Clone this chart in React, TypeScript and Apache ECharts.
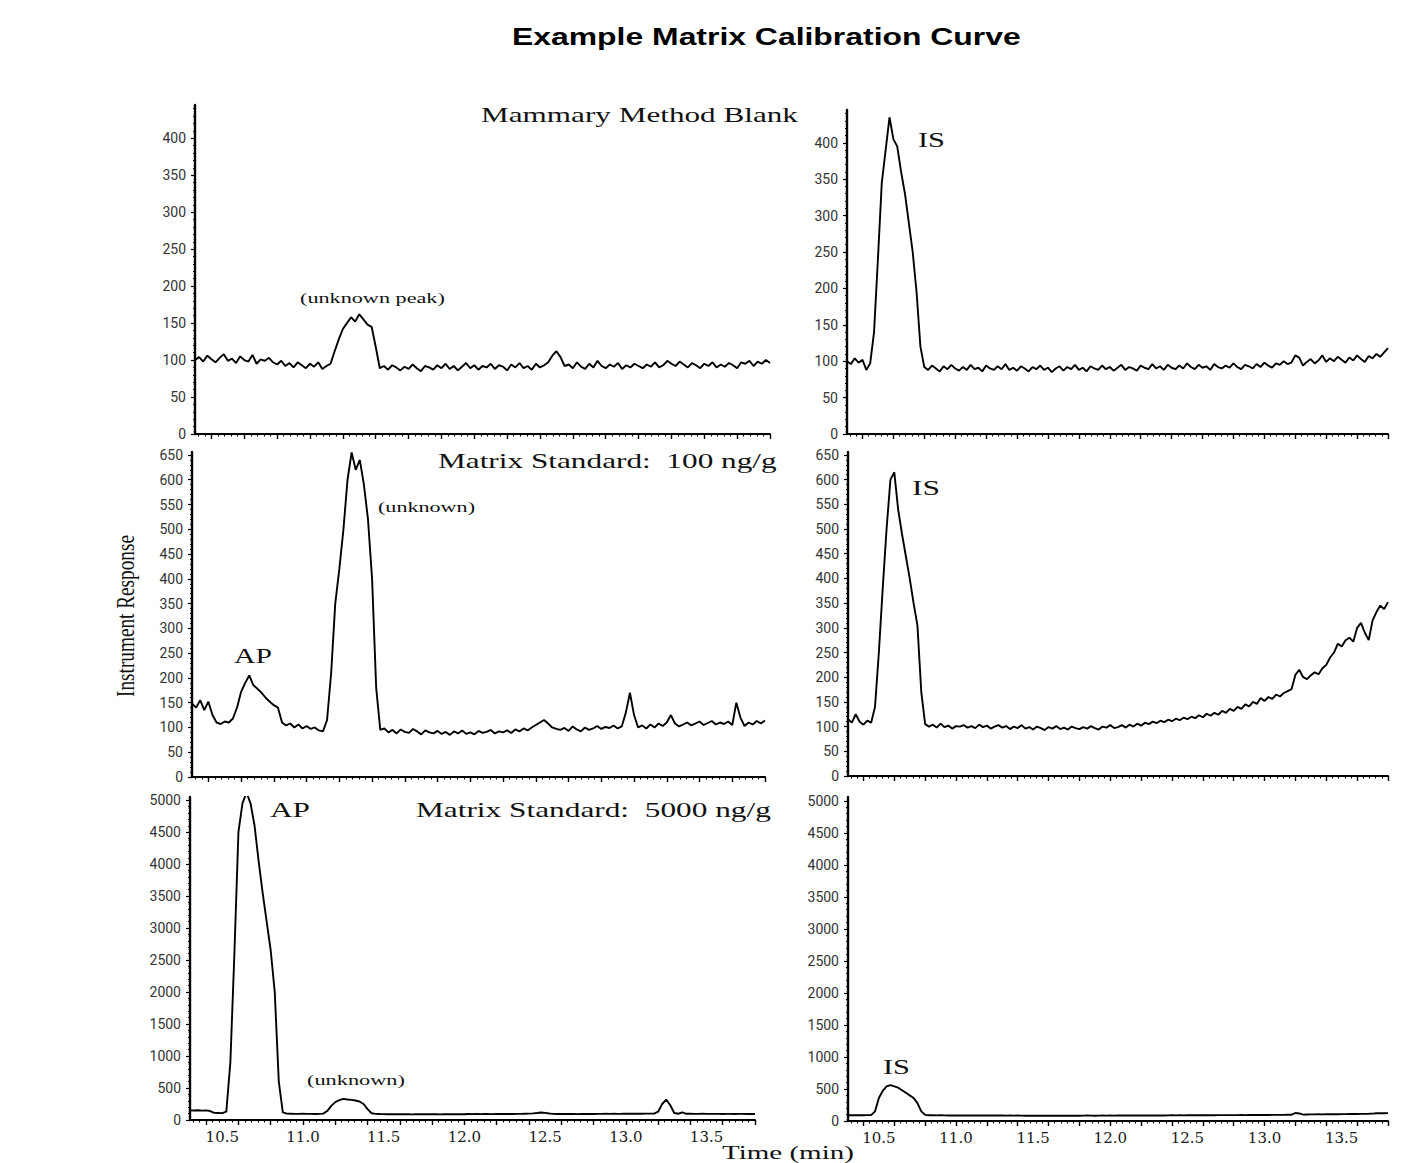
import React, { useEffect, useRef } from 'react';
import * as echarts from 'echarts';

// Retention time sampling grid (min)
const times: number[] = Array.from({ length: 141 }, (_, i) => Math.round((10.3 + 0.025 * i) * 1000) / 1000);

// Left column: analyte (AP) channel
const blankAnalyte = [
  100, 104, 98, 106, 101, 97, 103, 108, 99, 102,
  96, 105, 100, 98, 107, 95, 101, 99, 103, 97,
  94, 99, 92, 96, 90, 97, 93, 89, 95, 91,
  97, 88, 92, 95, 112, 128, 142, 150, 158, 152,
  162, 155, 148, 145, 118, 89, 92, 87, 93, 90,
  86, 91, 88, 94, 89, 85, 92, 90, 87, 93,
  89, 95, 88, 92, 86, 91, 96, 89, 93, 87,
  92, 90, 95, 88, 93, 91, 86, 94, 90, 96,
  89, 92, 87, 95, 90, 93, 97, 106, 112, 104,
  92, 94, 89, 97, 91, 88, 95, 90, 99, 92,
  89, 94, 91, 96, 88, 93, 90, 95, 92, 89,
  94, 91, 97, 90, 93, 99, 95, 92, 98, 94,
  90, 96, 93, 89, 95, 92, 97, 90, 94, 91,
  96, 93, 89, 97, 95, 99, 92, 98, 95, 100, 96,
];
const std100Analyte = [
  148, 140, 155, 135, 152, 125, 110, 107, 112, 110,
  118, 140, 172, 190, 205, 185, 178, 170, 160, 152,
  145, 140, 110, 104, 108, 100, 106, 98, 103, 97,
  100, 94, 92, 115, 210, 350, 420, 500, 600, 655,
  620, 640, 590, 520, 400, 180, 95, 98, 90, 95,
  88, 96, 91, 89, 97, 92, 86, 94, 90, 88,
  93, 87, 91, 85, 92, 88, 94, 87, 90, 86,
  93, 89, 91, 95, 88, 92, 90, 94, 89, 96,
  92, 98, 94, 100, 105, 110, 115, 108, 100, 97,
  95, 99, 93, 102, 96, 92, 100, 95, 98, 103,
  97, 101, 99, 104, 98, 102, 130, 170, 125, 100,
  104, 98, 106, 100, 108, 103, 110, 125, 108, 102,
  106, 110, 104, 108, 112, 105, 109, 113, 106, 110,
  107, 112, 105, 150, 120, 103, 110, 106, 113, 108, 114,
];
const std5000Analyte = [
  150, 148, 152, 147, 150, 140, 112, 110, 108, 130,
  900, 2600, 4500, 4950, 5120, 4950, 4600, 4050, 3550, 3100,
  2650, 2000, 600, 120, 100, 98, 96, 95, 97, 95,
  96, 94, 95, 100, 140, 220, 280, 310, 330, 320,
  315, 305, 290, 250, 170, 105, 95, 93, 92, 90,
  91, 90, 89, 91, 90, 88, 90, 89, 91, 90,
  89, 90, 88, 91, 90, 89, 92, 90, 91, 93,
  92, 94, 92, 95, 93, 92, 94, 96, 93, 95,
  94, 96, 95, 98, 100, 104, 110, 118, 112, 102,
  96, 94, 95, 93, 95, 94, 92, 94, 93, 95,
  94, 96, 95, 97, 96, 98, 96, 97, 99, 98,
  97, 99, 98, 100, 99, 100, 130, 250, 320, 230,
  110, 98, 118, 97, 100, 96, 95, 97, 96, 95,
  96, 95, 94, 96, 95, 94, 96, 95, 94, 95, 94,
];

// Right column: internal standard (IS) channel
const blankIS = [
  100, 96, 104, 98, 102, 88, 97, 140, 240, 345,
  390, 435, 405, 395, 360, 330, 290, 250, 195, 120,
  92, 88, 94, 90, 86, 93, 89, 95, 90, 87,
  92, 88, 95, 89, 91, 86, 94, 90, 88, 93,
  89, 96, 88, 91, 87, 93, 90, 86, 92, 89,
  94, 88, 91, 85, 90, 93, 87, 92, 89, 95,
  88, 91, 86, 93, 90, 88, 94, 89, 92, 87,
  91, 95, 88, 92, 90, 87, 94, 91, 89, 96,
  90, 93, 88, 95, 91, 89, 94, 90, 97, 92,
  89, 95, 91, 93, 88, 96, 92, 90, 94, 91,
  97, 92, 89, 95, 93, 90, 96, 92, 98, 94,
  91, 97, 95, 100, 96, 98, 108, 105, 94, 99,
  103, 97, 101, 108, 99, 104, 100, 106, 102, 98,
  105, 101, 108, 103, 99, 107, 104, 110, 106, 112, 118,
];
const std100IS = [
  115, 108, 125, 110, 104, 112, 108, 140, 250, 380,
  500, 600, 615, 540, 490, 445, 400, 350, 305, 170,
  105, 100, 104, 98, 106, 99, 102, 96, 101, 100,
  103, 98, 101, 97, 104, 99, 102, 96, 100, 103,
  98, 101, 95, 100, 97, 103, 96, 99, 94, 100,
  97, 93, 99, 96, 101, 95, 98, 94, 100, 97,
  95, 99, 96, 101, 97, 94, 100, 98, 103, 97,
  99, 103, 98, 104, 100, 106, 102, 108, 105, 110,
  107, 112, 109, 114, 111, 116, 113, 118, 115, 120,
  117, 123, 119, 126, 122, 128, 124, 132, 128, 136,
  132, 140, 136, 145, 141, 150, 146, 158, 152, 160,
  156, 165, 161, 168, 172, 176, 205, 215, 200, 196,
  204, 210, 206, 218, 225, 240, 250, 268, 262, 275,
  280, 272, 300, 310, 290, 275, 315, 332, 345, 338, 352,
];
const std5000IS = [
  90, 90, 91, 90, 90, 91, 92, 150, 360, 470,
  540, 560, 540, 520, 480, 440, 400, 360, 280, 150,
  95, 90, 89, 88, 89, 88, 87, 88, 87, 88,
  87, 86, 87, 86, 87, 86, 85, 86, 85, 86,
  85, 84, 85, 84, 85, 84, 83, 84, 83, 84,
  83, 84, 83, 82, 83, 82, 83, 82, 83, 84,
  83, 84, 85, 84, 83, 84, 85, 84, 85, 84,
  85, 86, 85, 86, 87, 86, 87, 86, 87, 88,
  87, 88, 87, 88, 89, 88, 89, 88, 89, 90,
  89, 90, 89, 90, 91, 90, 91, 92, 91, 92,
  91, 92, 93, 92, 93, 94, 93, 94, 95, 94,
  95, 96, 95, 96, 97, 98, 125, 118, 100, 102,
  103, 104, 105, 104, 106, 105, 107, 106, 108, 107,
  109, 110, 109, 111, 112, 113, 115, 120, 122, 121, 123,
];

// Tick labels / tick positions
const xLabelValues = [10.5, 11.0, 11.5, 12.0, 12.5, 13.0, 13.5];
const xMajorTicks = [10.4, 10.6, 10.8, 11.0, 11.2, 11.4, 11.6, 11.8, 12.0, 12.2, 12.4, 12.6, 12.8, 13.0, 13.2, 13.4, 13.6, 13.8];
const yTicksBlank = [0, 50, 100, 150, 200, 250, 300, 350, 400];
const yTicks100 = [0, 50, 100, 150, 200, 250, 300, 350, 400, 450, 500, 550, 600, 650];
const yTicks5000 = [0, 500, 1000, 1500, 2000, 2500, 3000, 3500, 4000, 4500, 5000];

const xMinorTicks: number[] = [];
for (let k = 0; k <= 87; k++) xMinorTicks.push(Math.round((10.32 + 0.04 * k) * 100) / 100);

function minorTicks(max: number, step: number): number[] {
  const out: number[] = [];
  for (let v = 0; v <= max; v += step) out.push(v);
  return out;
}

const SERIF = '"Liberation Serif", "Times New Roman", serif';
const SANS = '"Liberation Sans", Arial, sans-serif';

let measureCtx: CanvasRenderingContext2D | null = null;
function textWidth(text: string, font: string): number {
  if (!measureCtx) measureCtx = document.createElement('canvas').getContext('2d');
  measureCtx!.font = font;
  return measureCtx!.measureText(text).width;
}

function fitText(text: string, left: number, cy: number, targetW: number, size: number, family: string, weight = 'normal', color = '#111') {
  const w = textWidth(text, `${weight} ${size}px ${family}`);
  return {
    type: 'text',
    x: left,
    y: cy,
    scaleX: targetW / w,
    silent: true,
    style: {
      text,
      fontSize: size,
      fontFamily: family,
      fontWeight: weight,
      fill: color,
      textAlign: 'left',
      textVerticalAlign: 'middle',
      align: 'left',
      verticalAlign: 'middle',
    },
  };
}

function buildOption() {
  const panels = [
    { data: blankAnalyte, left: 195, top: 105, width: 575, height: 329, ymax: 445, yTicks: yTicksBlank, minor: 10, xLabels: false },
    { data: blankIS, left: 847, top: 110, width: 541, height: 324, ymax: 445, yTicks: yTicksBlank, minor: 10, xLabels: false },
    { data: std100Analyte, left: 192, top: 452, width: 573, height: 325, ymax: 656, yTicks: yTicks100, minor: 10, xLabels: false },
    { data: std100IS, left: 848, top: 452, width: 540, height: 324, ymax: 656, yTicks: yTicks100, minor: 10, xLabels: false },
    { data: std5000Analyte, left: 190, top: 797, width: 565, height: 323, ymax: 5050, yTicks: yTicks5000, minor: 100, xLabels: true },
    { data: std5000IS, left: 848, top: 797, width: 540, height: 324, ymax: 5060, yTicks: yTicks5000, minor: 100, xLabels: true },
  ];

  const grid = panels.map((p) => ({
    left: p.left, top: p.top, width: p.width, height: p.height, containLabel: false, outerBoundsMode: 'none',
  }));
  const xAxis: any[] = [];
  const yAxis: any[] = [];
  panels.forEach((p, g) => {
    xAxis.push({
      type: 'value', gridIndex: g, min: 10.3, max: 13.8, position: 'bottom',
      splitLine: { show: false },
      axisLine: { show: true, onZero: false, lineStyle: { color: '#000', width: 2 } },
      axisTick: { show: true, customValues: xMajorTicks, length: 5, lineStyle: { color: '#000', width: 1.4 } },
      axisLabel: {
        show: p.xLabels, customValues: xLabelValues, margin: 9, hideOverlap: false,
        formatter: (v: number) => v.toFixed(1),
        fontFamily: '"DejaVu Serif", serif', fontSize: 15, color: '#1a1a1a',
      },
    });
    xAxis.push({
      type: 'value', gridIndex: g, min: 10.3, max: 13.8, position: 'bottom',
      splitLine: { show: false },
      axisLine: { show: false, onZero: false },
      axisTick: { show: true, customValues: xMinorTicks, length: 2.5, lineStyle: { color: '#000', width: 1.1 } },
      axisLabel: { show: false },
    });
    yAxis.push({
      type: 'value', gridIndex: g, min: 0, max: p.ymax, position: 'left',
      splitLine: { show: false },
      axisLine: { show: true, onZero: false, lineStyle: { color: '#000', width: 2.4 } },
      axisTick: { show: true, customValues: p.yTicks, length: 4, lineStyle: { color: '#000', width: 1.2 } },
      axisLabel: {
        show: true, customValues: p.yTicks, margin: 9, hideOverlap: false,
        formatter: (v: number) => String(Math.round(v)),
        fontFamily: 'Roboto, sans-serif', fontSize: 14, color: '#333',
      },
    });
    yAxis.push({
      type: 'value', gridIndex: g, min: 0, max: p.ymax, position: 'left',
      splitLine: { show: false },
      axisLine: { show: false, onZero: false },
      axisTick: { show: true, customValues: minorTicks(p.ymax, p.minor), length: 2, lineStyle: { color: '#000', width: 1 } },
      axisLabel: { show: false },
    });
  });

  const series = panels.map((p, g) => ({
    type: 'line',
    xAxisIndex: 2 * g,
    yAxisIndex: 2 * g,
    data: times.map((t, i) => [t, p.data[i]]),
    showSymbol: false,
    symbol: 'none',
    silent: true,
    clip: true,
    lineStyle: { color: '#000', width: 1.9 },
  }));

  const yTitleText = 'Instrument Response';
  const yTitleW = textWidth(yTitleText, `normal 20px ${SERIF}`);

  const elements: any[] = [
    fitText('Example Matrix Calibration Curve', 512, 37, 509, 24, SANS, 'bold', '#000'),
    fitText('Mammary Method Blank', 481, 115, 317, 21, SERIF),
    fitText('Matrix Standard:\u00a0 100 ng/g', 438, 461, 339, 21, SERIF),
    fitText('Matrix Standard:\u00a0 5000 ng/g', 416, 810, 355, 21, SERIF),
    fitText('(unknown peak)', 300, 298, 145, 14, SERIF),
    fitText('(unknown)', 378, 507, 97, 14, SERIF),
    fitText('(unknown)', 307, 1080, 98, 14, SERIF),
    fitText('AP', 234, 656, 38, 22, SERIF),
    fitText('AP', 270, 810, 40, 22, SERIF),
    fitText('IS', 918, 140, 27, 22, SERIF),
    fitText('IS', 912, 488, 28, 22, SERIF),
    fitText('IS', 883, 1067, 27, 22, SERIF),
    fitText('Time (min)', 722, 1152, 132, 19, SERIF),
    {
      type: 'text', x: 126, y: 616, rotation: Math.PI / 2,
      scaleX: 162 / yTitleW, scaleY: 1.25, silent: true,
      style: {
        text: yTitleText, fontSize: 20, fontFamily: SERIF, fill: '#111',
        textAlign: 'center', textVerticalAlign: 'middle', align: 'center', verticalAlign: 'middle',
      },
    },
  ];

  return {
    animation: false,
    backgroundColor: '#ffffff',
    grid,
    xAxis,
    yAxis,
    series,
    graphic: { elements },
  };
}

export default function App() {
  const ref = useRef<HTMLDivElement>(null);
  useEffect(() => {
    const chart = echarts.init(ref.current as HTMLDivElement, null, { renderer: 'svg' });
    chart.setOption(buildOption() as any);
    return () => chart.dispose();
  }, []);
  return (
    <div
      ref={ref}
      style={{ position: 'absolute', left: 0, top: 0, width: 1404, height: 1163, background: '#fff' }}
    />
  );
}
